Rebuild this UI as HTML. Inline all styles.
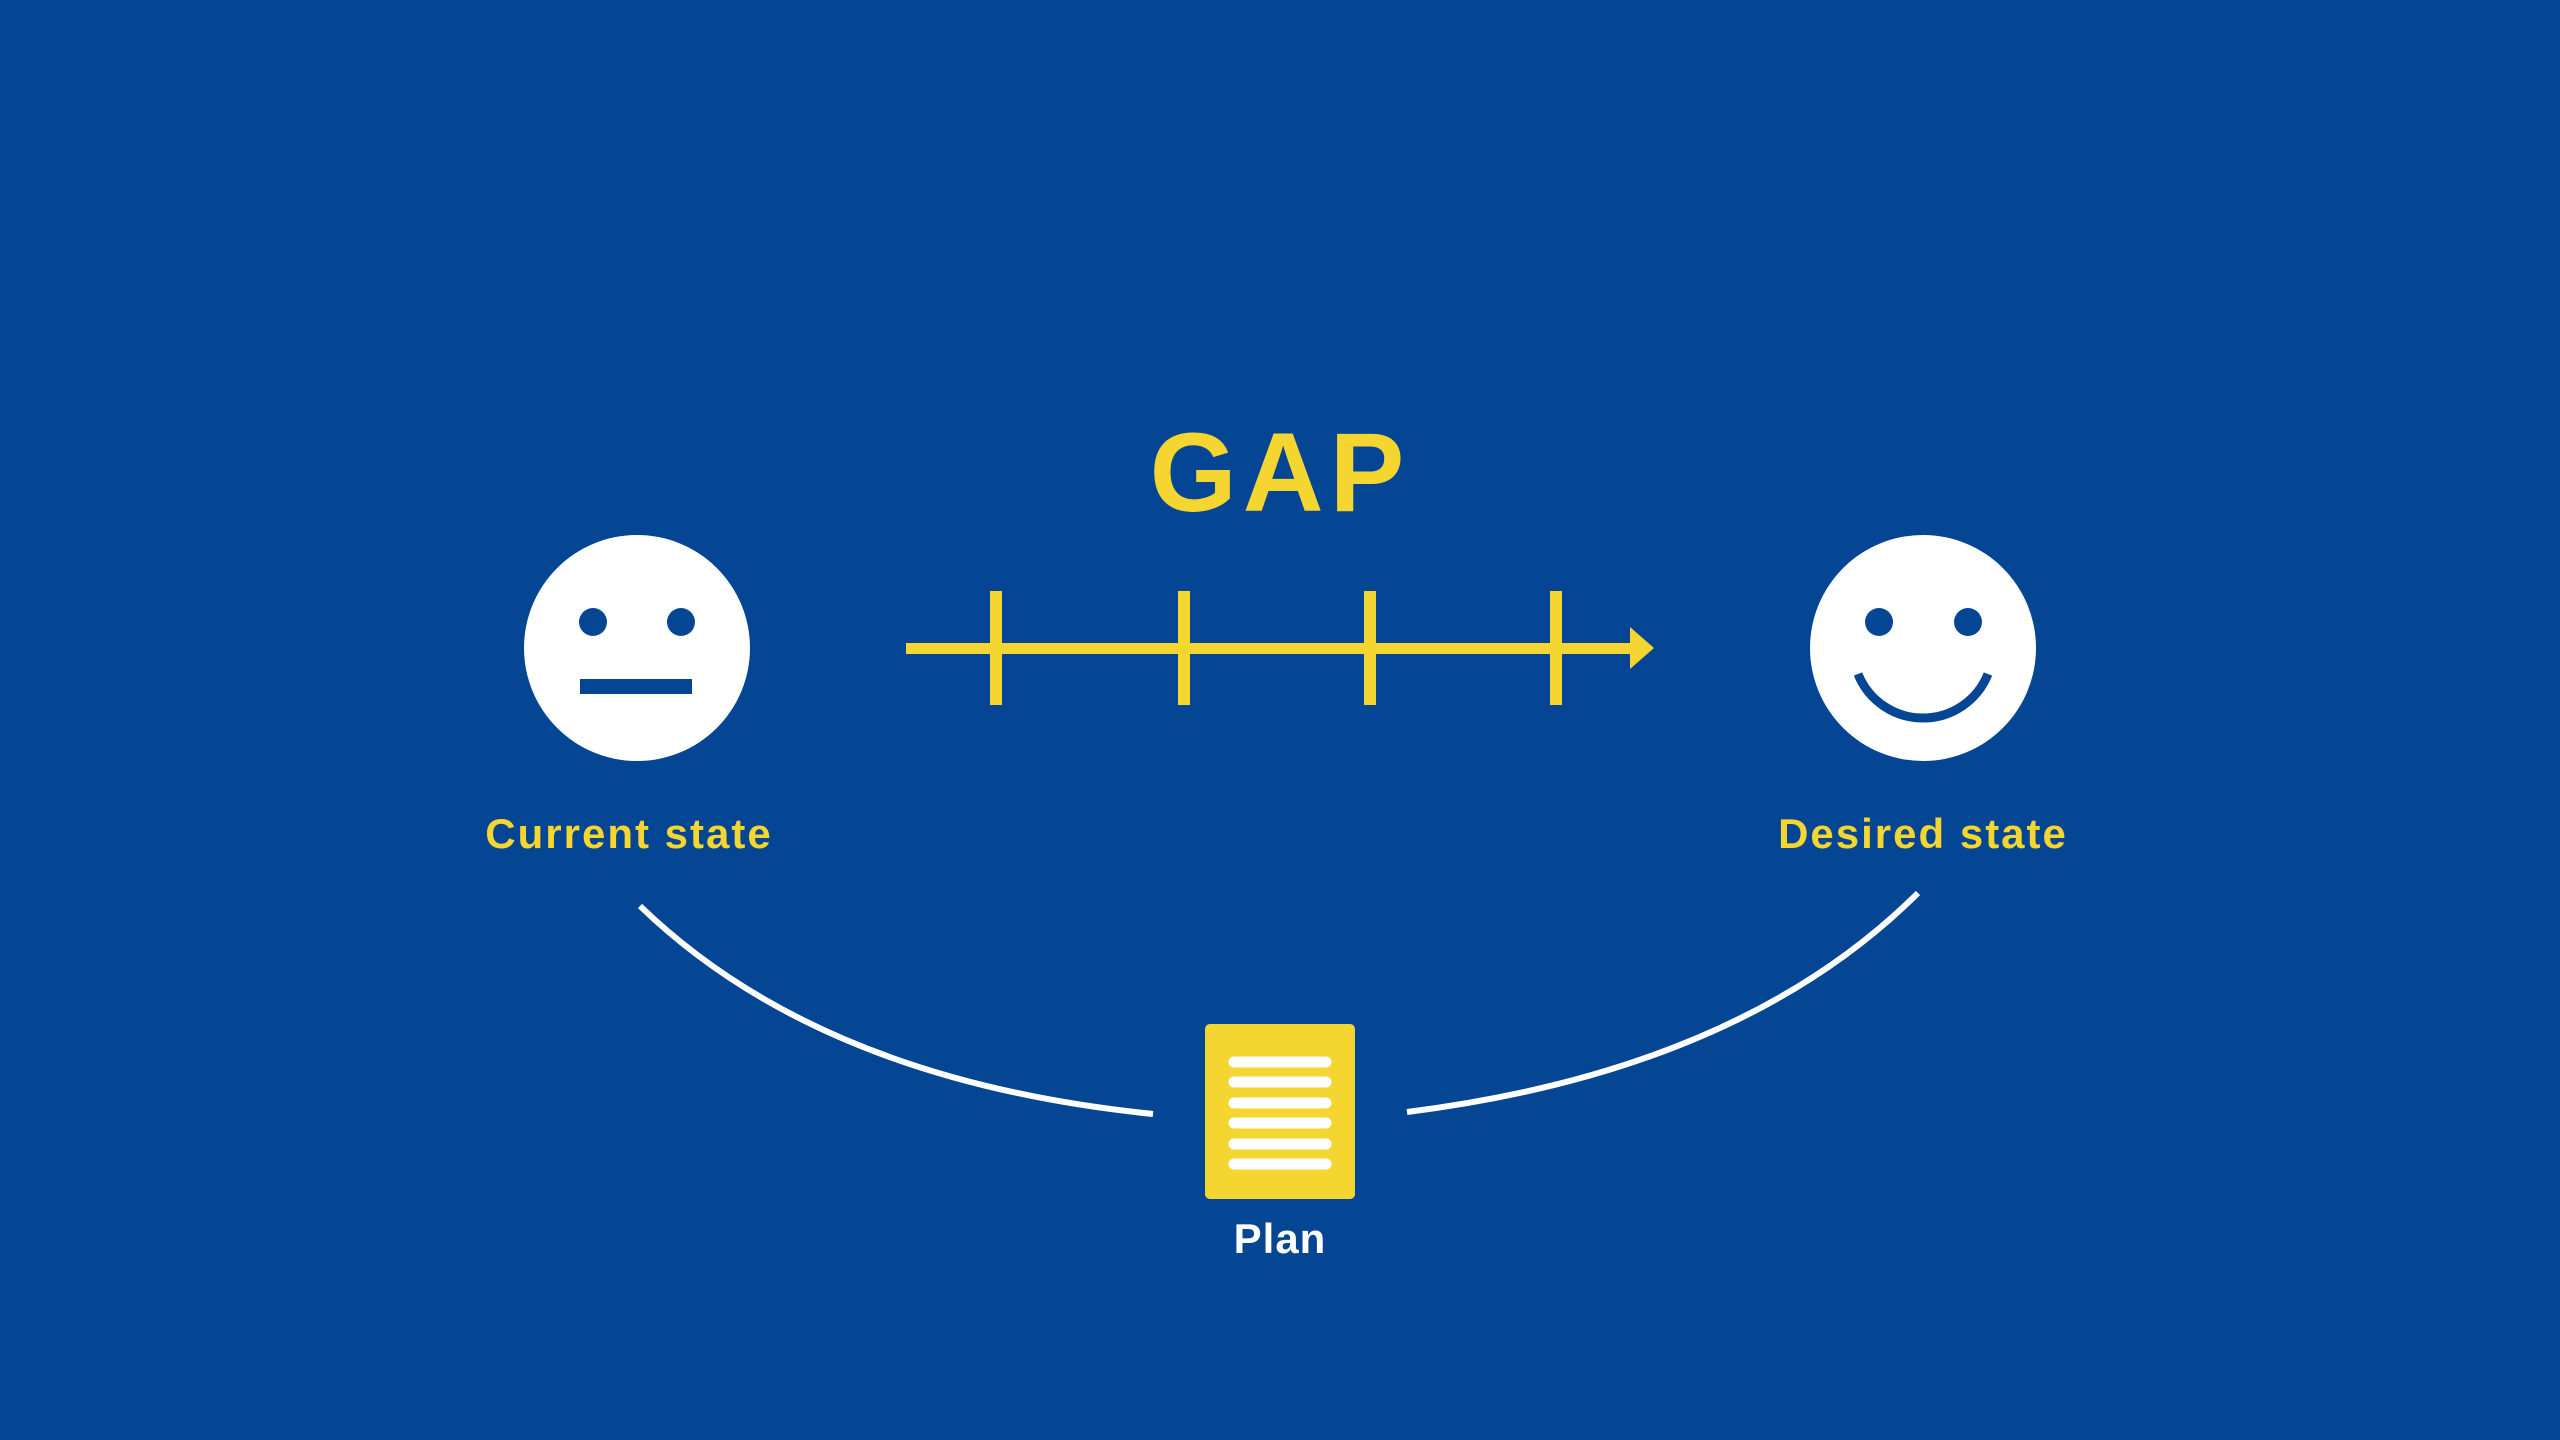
<!DOCTYPE html>
<html><head><meta charset="utf-8"><style>
html,body{margin:0;padding:0;background:#044694;}
svg{display:block}
</style></head><body>
<svg width="2560" height="1440" viewBox="0 0 2560 1440" xmlns="http://www.w3.org/2000/svg">
<rect width="2560" height="1440" fill="#044694"/>
<text x="1280" y="511" text-anchor="middle" font-family="Liberation Sans, sans-serif" font-weight="bold" font-size="112" letter-spacing="6" fill="#F5D630">GAP</text>
<circle cx="637" cy="648" r="113" fill="#fff"/>
<circle cx="593" cy="622" r="14" fill="#044694"/>
<circle cx="681" cy="622" r="14" fill="#044694"/>
<rect x="580" y="679" width="112" height="15" fill="#044694"/>
<circle cx="1923" cy="648" r="113" fill="#fff"/>
<circle cx="1879" cy="622" r="14" fill="#044694"/>
<circle cx="1968" cy="622" r="14" fill="#044694"/>
<path d="M1858 674 A 70 70 0 0 0 1988 674" fill="none" stroke="#044694" stroke-width="9"/>
<rect x="906" y="643" width="728" height="11" fill="#F5D630"/>
<polygon points="1630,627 1654,648 1630,669" fill="#F5D630"/>
<rect x="990" y="591" width="12" height="114" fill="#F5D630"/>
<rect x="1178" y="591" width="12" height="114" fill="#F5D630"/>
<rect x="1364" y="591" width="12" height="114" fill="#F5D630"/>
<rect x="1550" y="591" width="12" height="114" fill="#F5D630"/>
<text x="629" y="848" text-anchor="middle" font-family="Liberation Sans, sans-serif" font-weight="bold" font-size="42" letter-spacing="2" fill="#F5D630">Current state</text>
<text x="1923" y="848" text-anchor="middle" font-family="Liberation Sans, sans-serif" font-weight="bold" font-size="42" letter-spacing="2" fill="#F5D630">Desired state</text>
<path d="M640 906 Q 820 1080 1153 1114" fill="none" stroke="#fff" stroke-width="6"/>
<path d="M1918 893 Q 1740 1070 1407 1112" fill="none" stroke="#fff" stroke-width="6"/>
<rect x="1205" y="1024" width="150" height="175" rx="5" fill="#F5D630"/>
<g stroke="#fff" stroke-width="11" stroke-linecap="round">
<line x1="1234" y1="1062" x2="1326" y2="1062"/>
<line x1="1234" y1="1082" x2="1326" y2="1082"/>
<line x1="1234" y1="1103" x2="1326" y2="1103"/>
<line x1="1234" y1="1123" x2="1326" y2="1123"/>
<line x1="1234" y1="1144" x2="1326" y2="1144"/>
<line x1="1234" y1="1164" x2="1326" y2="1164"/>
</g>
<text x="1280" y="1253" text-anchor="middle" font-family="Liberation Sans, sans-serif" font-weight="bold" font-size="42" letter-spacing="1" fill="#fff">Plan</text>
</svg>
</body></html>
